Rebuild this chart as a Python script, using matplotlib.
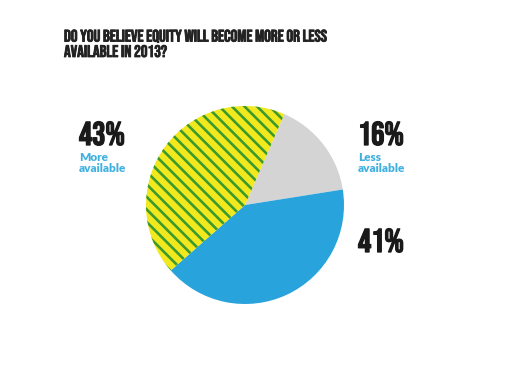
import matplotlib
matplotlib.use("Agg")
import matplotlib.pyplot as plt
import matplotlib.patheffects as pe

# data
slice_names = ["Less available", "Stay the same", "More available"]
values = [16, 41, 43]
pct_labels = ["16%", "41%", "43%"]
colors = ["#d4d4d4", "#29a3dc", "#f2e81e"]

title = "DO YOU BELIEVE EQUITY WILL BECOME MORE OR LESS\nAVAILABLE IN 2013?"

W, H = 524, 367
DPI = 113  # hatch spacing is per inch, so this sets stripe density
fig = plt.figure(figsize=(W / DPI, H / DPI), dpi=DPI)

def pt(pixels):
    # font size / line width given in pixels -> points
    return pixels * 72 / DPI

plt.rcParams['hatch.color'] = "#3a9a2e"
plt.rcParams['hatch.linewidth'] = pt(2.6)

cond = ['Bebas Neue', 'DejaVu Sans']

# pie
cx, cy, r = 245, 205, 99
ax = fig.add_axes([(cx - r) / W, (H - cy - r) / H, 2 * r / W, 2 * r / H])
wedges, _ = ax.pie(values, colors=colors, startangle=66.6, counterclock=False,
                   wedgeprops=dict(linewidth=0))
wedges[2].set_hatch("\\\\\\")
ax.set_xlim(-1, 1)
ax.set_ylim(-1, 1)
ax.set_aspect("equal")
ax.axis("off")

def px(x, y):
    return x / W, 1 - y / H

# title (last line baseline)
fig.text(*px(64, 57), title, family=cond, fontsize=pt(16.8),
         color="#222222", va="baseline", ha="left", linespacing=1.2,
         path_effects=[pe.withStroke(linewidth=pt(0.8), foreground="#222222")])

# annotations
big = dict(family=cond, fontsize=pt(33), color="#1a1a1a",
           va="baseline", ha="left",
           path_effects=[pe.withStroke(linewidth=pt(1.3), foreground="#1a1a1a")])
small = dict(family=['Lato', 'DejaVu Sans'], weight="heavy", fontsize=pt(11.8),
             color="#3fb0e0", va="baseline", ha="left", linespacing=1.0)

fig.text(*px(79, 145), pct_labels[2], **big)
fig.text(*px(79, 172), "More\navailable", **small)
fig.text(*px(358, 145), pct_labels[0], **big)
fig.text(*px(358, 172), "Less\navailable", **small)
fig.text(*px(358, 252), pct_labels[1], **big)

fig.savefig("out.png", dpi=DPI)
